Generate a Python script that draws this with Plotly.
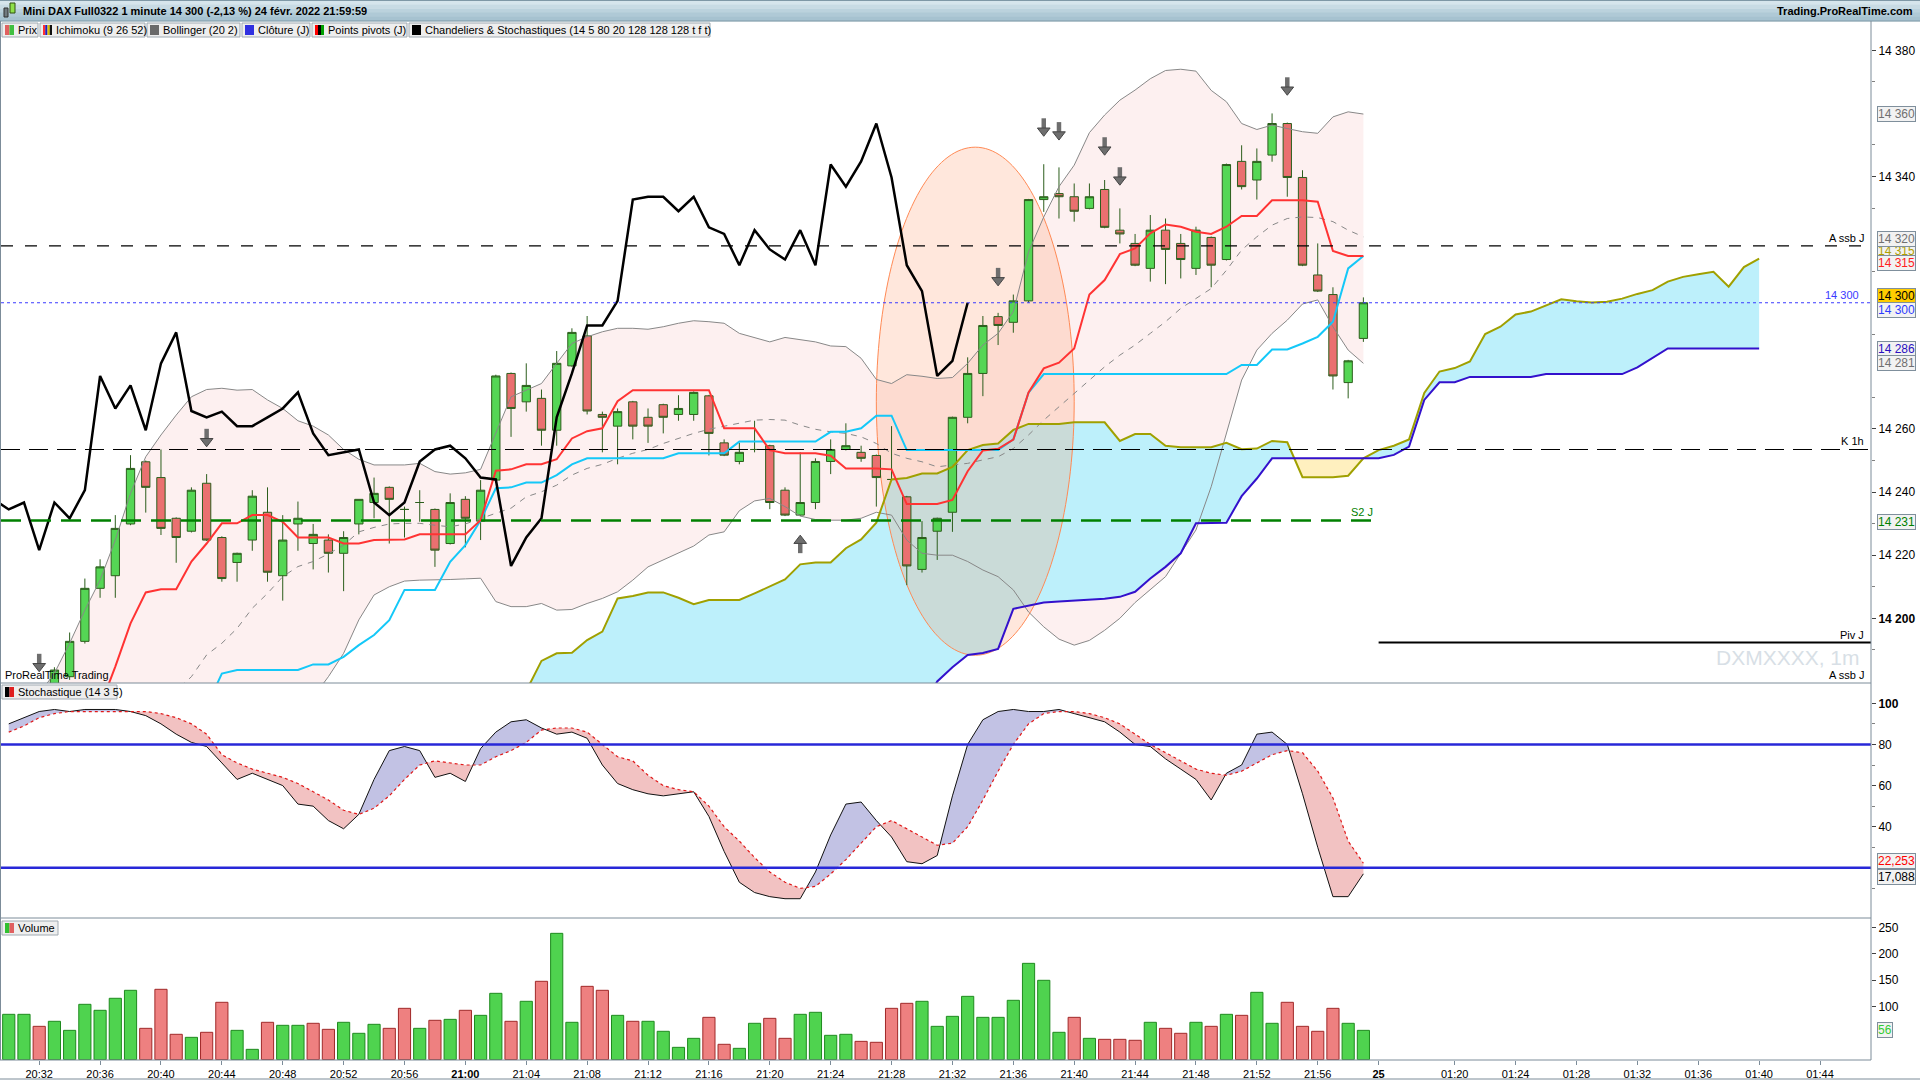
import numpy as np
import plotly.graph_objects as go

# bar index: 0 = 20:30 ... 89 = 21:59 (last bar), 90.. = projected slots of the next session

opens = [
    14170, 14175, 14178, 14176, 14181.5, 14192.7, 14209.5, 14213.5, 14229.9, 14249.6,
    14244.6, 14231.7, 14227.6, 14242.8, 14225.6, 14217.7, 14224.8, 14233.6, 14213.5, 14229.9,
    14223.7, 14224.8, 14220.6, 14229.9, 14236.7, 14241.5, 14234.5, 14236.7, 14234.5, 14223.7,
    14237.7, 14230.8, 14243.8, 14277.6, 14268.6, 14269.7, 14259.6, 14280.0, 14289.5, 14264.6,
    14260.9, 14268.6, 14263.7, 14267.7, 14264.6, 14264.6, 14270.5, 14255.6, 14249.7, 14253.5,
    14254.7, 14240.6, 14232.7, 14236.7, 14249.7, 14253.5, 14252.6, 14251.6, 14244.0, 14238.5,
    14215.5, 14227.6, 14233.6, 14263.7, 14277.6, 14295.6, 14293.8, 14300.6, 14332.7, 14334.6,
    14333.6, 14329.9, 14335.9, 14323.0, 14318.8, 14310.9, 14323.0, 14318.8, 14310.9, 14320.7,
    14313.7, 14344.8, 14338.9, 14346.8, 14356.8, 14339.7, 14308.8, 14302.6, 14274.7, 14288.7,
]
highs = [
    14176, 14179, 14178.5, 14184.5, 14195.5, 14212.6, 14218.7, 14232.7, 14251.7, 14250.0,
    14253.5, 14232.0, 14241.5, 14245.7, 14226.0, 14220.8, 14240.6, 14241.5, 14232.7, 14237.0,
    14229.9, 14226.6, 14227.6, 14237.7, 14244.6, 14241.8, 14235.4, 14240.6, 14234.8, 14239.6,
    14238.7, 14243.8, 14277.2, 14277.9, 14280.8, 14272.5, 14284.7, 14291.9, 14295.8, 14265.5,
    14266.5, 14268.9, 14266.5, 14268.0, 14270.7, 14271.9, 14270.8, 14256.7, 14255.6, 14262.6,
    14255.0, 14241.5, 14252.6, 14250.7, 14256.7, 14261.8, 14254.7, 14251.9, 14260.9, 14238.8,
    14230.8, 14231.9, 14263.9, 14282.7, 14295.8, 14296.8, 14302.6, 14332.9, 14343.9, 14342.9,
    14337.8, 14337.8, 14338.9, 14329.9, 14321.8, 14327.8, 14326.7, 14321.8, 14324.1, 14321.0,
    14344.1, 14349.9, 14348.9, 14360.0, 14357.1, 14342.0, 14318.8, 14304.9, 14281.9, 14301.7,
]
lows = [
    14166, 14172, 14174, 14175, 14180.5, 14192.0, 14206.5, 14206.5, 14229.5, 14233.5,
    14226.4, 14217.6, 14227.2, 14224.5, 14211.6, 14211.6, 14221.4, 14211.6, 14205.6, 14221.4,
    14215.5, 14214.5, 14208.6, 14226.6, 14231.7, 14223.7, 14225.6, 14230.6, 14216.3, 14223.4,
    14222.5, 14224.8, 14243.0, 14257.5, 14265.5, 14254.7, 14254.7, 14279.7, 14264.6, 14252.6,
    14248.8, 14256.7, 14255.6, 14258.6, 14262.6, 14262.6, 14251.6, 14251.4, 14248.8, 14252.6,
    14234.6, 14232.4, 14232.4, 14234.6, 14245.7, 14253.2, 14249.6, 14235.4, 14243.7, 14210.5,
    14214.5, 14218.5, 14227.4, 14261.8, 14270.4, 14286.6, 14290.5, 14300.0, 14328.8, 14326.7,
    14325.7, 14329.6, 14323.6, 14318.8, 14311.6, 14306.7, 14305.9, 14307.7, 14308.8, 14304.9,
    14313.4, 14335.9, 14332.7, 14344.7, 14333.6, 14311.6, 14303.4, 14272.5, 14269.7, 14287.6,
]
closes = [
    14175, 14178, 14176, 14183.6, 14192.7, 14209.5, 14216.3, 14228.5, 14247.5, 14241.5,
    14228.5, 14225.6, 14240.6, 14224.8, 14212.6, 14220.6, 14238.7, 14214.6, 14224.8, 14231.7,
    14226.6, 14220.6, 14225.6, 14237.7, 14239.6, 14237.7, 14234.5, 14236.7, 14221.6, 14236.7,
    14231.7, 14240.6, 14276.8, 14266.5, 14273.8, 14259.6, 14280.8, 14290.6, 14265.7, 14263.7,
    14265.5, 14260.9, 14260.9, 14263.7, 14266.5, 14271.6, 14258.6, 14251.7, 14252.6, 14253.5,
    14236.7, 14232.7, 14236.7, 14249.7, 14253.5, 14254.7, 14250.7, 14244.6, 14244.0, 14216.6,
    14225.6, 14231.7, 14263.7, 14277.6, 14292.8, 14292.8, 14300.6, 14332.7, 14333.6, 14333.6,
    14329.0, 14333.6, 14323.9, 14321.8, 14311.9, 14323.0, 14316.9, 14313.7, 14323.0, 14311.9,
    14343.8, 14336.8, 14344.8, 14356.8, 14339.7, 14311.9, 14303.7, 14276.8, 14281.6, 14300.0,
]
volume = [
    85.6, 85.6, 62.9, 72.4, 55.3, 104.5, 93.2, 115.9, 131.0, 59.1,
    132.9, 47.8, 42.1, 51.6, 108.3, 55.3, 19.4, 70.5, 64.8, 64.8,
    68.6, 57.2, 70.5, 49.7, 66.7, 59.1, 96.9, 59.1, 74.3, 76.1,
    93.2, 83.7, 125.3, 72.4, 110.2, 148.0, 238.7, 70.5, 138.5, 131.0,
    83.7, 72.4, 72.4, 53.5, 23.2, 40.2, 79.9, 28.9, 21.3, 68.6,
    78.0, 40.2, 85.6, 89.4, 45.9, 47.8, 34.5, 32.7, 96.9, 106.4,
    110.2, 62.9, 81.8, 119.6, 79.9, 79.9, 112.1, 182.0, 149.9, 51.6,
    79.9, 40.2, 38.3, 38.3, 36.5, 70.5, 59.1, 49.7, 70.5, 62.9,
    85.6, 83.7, 127.2, 68.6, 108.3, 62.9, 53.5, 96.9, 68.6, 55.3,
]

# Bollinger (20 2)
bb_upper = [
    14165, 14170, 14176, 14182.6, 14192.1, 14202.6, 14212.1, 14224.8, 14239.6, 14251.2,
    14258.1, 14264.4, 14270.2, 14272.5, 14272.9, 14272.3, 14272.5, 14269.2, 14266.5, 14262.6,
    14260.9, 14258.1, 14253.5, 14250.4, 14248.6, 14248.6, 14248.6, 14249.1, 14246.5, 14245.7,
    14246.1, 14247.2, 14258.6, 14270.2, 14272.3, 14274.4, 14280.8, 14287.1, 14289.2, 14290.8,
    14291.9, 14291.9, 14291.6, 14292.4, 14293.5, 14294.3, 14294.0, 14293.5, 14290.3, 14289.0,
    14287.6, 14289.0, 14288.4, 14287.6, 14286.3, 14286.1, 14282.4, 14275.7, 14274.4, 14277.2,
    14276.7, 14276.0, 14276.3, 14280.8, 14286.6, 14290.3, 14297.2, 14316.1, 14327.2, 14336.8,
    14343.6, 14353.9, 14359.5, 14364.2, 14367.4, 14371.0, 14373.6, 14374.0, 14373.4, 14367.3,
    14363.7, 14356.8, 14354.9, 14356.3, 14355.2, 14354.2, 14353.7, 14358.9, 14360.5, 14359.8,
]
bb_mid = [
    14120, 14125, 14130, 14135, 14140, 14146, 14152, 14158, 14164, 14169,
    14173, 14177, 14181.5, 14188.4, 14192.1, 14196.8, 14203.2, 14207.9, 14213.2, 14216.4,
    14218.0, 14220.4, 14223.2, 14227.4, 14228.8, 14229.9, 14230.1, 14230.1, 14229.5, 14229.0,
    14229.9, 14231.7, 14233.3, 14234.9, 14238.5, 14240.1, 14242.2, 14245.4, 14247.5, 14248.8,
    14250.7, 14252.3, 14253.5, 14255.4, 14257.0, 14258.6, 14259.9, 14260.9, 14262.0, 14262.8,
    14263.0, 14262.8, 14261.2, 14259.9, 14259.1, 14258.6, 14257.5, 14255.4, 14252.3, 14250.7,
    14249.6, 14248.0, 14248.6, 14249.1, 14250.2, 14251.2, 14253.8, 14258.1, 14262.8, 14267.0,
    14271.3, 14275.5, 14279.7, 14283.4, 14286.6, 14290.3, 14294.0, 14298.2, 14301.4, 14304.5,
    14310.3, 14316.7, 14320.9, 14324.6, 14326.7, 14327.2, 14327.0, 14325.7, 14323.0, 14320.9,
]
bb_lower = [
    14075, 14080, 14084, 14088, 14088, 14090, 14092, 14091, 14088, 14087,
    14088, 14090, 14093, 14104, 14111, 14121, 14134, 14147, 14160, 14170,
    14175, 14181.5, 14188.9, 14199.5, 14207.4, 14210.0, 14211.8, 14212.1, 14212.1, 14212.3,
    14212.5, 14212.7, 14205.3, 14203.7, 14203.7, 14204.7, 14202.6, 14202.8, 14204.7, 14206.3,
    14208.4, 14212.1, 14216.3, 14218.5, 14220.6, 14222.9, 14226.4, 14227.4, 14234.1, 14237.2,
    14238.0, 14235.4, 14232.4, 14231.3, 14231.1, 14231.1, 14231.7, 14233.6, 14232.7, 14224.8,
    14220.6, 14220.0, 14220.0, 14218.0, 14215.3, 14213.2, 14209.0, 14202.0, 14197.3, 14193.4,
    14191.5, 14193.0, 14196.2, 14200.0, 14205.0, 14209.0, 14213.2, 14220.6, 14228.0, 14241.7,
    14258.6, 14275.5, 14285.0, 14290.3, 14294.5, 14299.6, 14300.9, 14292.4, 14285.0, 14280.8,
]

# Ichimoku (9 26 52)
TENKAN_START = 6
tenkan = [
    14172, 14184.7, 14198.4, 14208.2, 14209.2, 14209.2, 14218.0, 14223.7, 14230.1, 14230.1,
    14232.7, 14232.7, 14230.6, 14225.6, 14225.6, 14225.6, 14223.7, 14223.7, 14224.8, 14225.0,
    14225.0, 14226.6, 14226.6, 14226.6, 14226.6, 14231.1, 14246.8, 14247.2, 14248.8, 14248.8,
    14250.4, 14257.0, 14259.3, 14260.2, 14268.8, 14272.3, 14272.3, 14272.3, 14272.3, 14272.3,
    14272.3, 14260.2, 14260.2, 14260.2, 14253.3, 14252.3, 14252.3, 14252.3, 14251.5, 14247.5,
    14247.5, 14247.5, 14247.2, 14236.2, 14236.2, 14236.2, 14237.5, 14246.6, 14253.2, 14253.7,
    14256.6, 14271.6, 14279.2, 14281.0, 14285.5, 14302.6, 14307.2, 14315.4, 14317.2, 14322.0,
    14324.8, 14324.1, 14322.5, 14321.8, 14324.1, 14327.5, 14327.5, 14332.5, 14332.5, 14332.5,
    14332.0, 14316.4, 14314.8, 14314.8,
]
KIJUN_START = 13
kijun = [
    14172, 14182.5, 14183.6, 14183.6, 14183.6, 14183.6, 14183.6, 14185.4, 14185.4, 14187.8,
    14191.5, 14194.7, 14199.4, 14209.0, 14209.0, 14209.0, 14217.9, 14223.2, 14231.1, 14241.2,
    14241.5, 14243.0, 14243.0, 14245.4, 14248.8, 14250.7, 14250.7, 14250.7, 14250.7, 14250.7,
    14250.7, 14252.3, 14252.3, 14252.3, 14252.3, 14256.0, 14256.0, 14256.0, 14256.0, 14256.0,
    14256.0, 14259.1, 14259.1, 14260.2, 14264.2, 14264.2, 14253.3, 14253.3, 14253.3, 14253.3,
    14253.3, 14253.3, 14253.3, 14256.7, 14271.5, 14277.4, 14277.4, 14277.4, 14277.4, 14277.4,
    14277.4, 14277.4, 14277.4, 14277.4, 14277.4, 14277.4, 14277.4, 14277.4, 14280.3, 14280.3,
    14285.2, 14285.2, 14287.1, 14289.2, 14294.0, 14310.9, 14314.8,
]
SPAN_START = 34
span_a = [
    14177, 14186.5, 14188.9, 14189.1, 14193.1, 14195.8, 14206.3, 14207.1, 14208.2, 14208.2,
    14206.5, 14204.5, 14205.8, 14205.8, 14205.8, 14207.9, 14210.0, 14212.3, 14217.1, 14217.7,
    14217.7, 14222.2, 14225.0, 14230.3, 14244.0, 14244.5, 14245.9, 14245.9, 14248.0, 14253.3,
    14254.9, 14255.4, 14259.7, 14261.6, 14261.6, 14261.6, 14262.1, 14262.1, 14262.1, 14256.2,
    14258.4, 14258.4, 14254.7, 14254.2, 14254.2, 14254.2, 14255.6, 14253.6, 14253.8, 14256.2,
    14255.8, 14244.7, 14244.7, 14244.7, 14245.2, 14250.7, 14253.3, 14254.7, 14256.7, 14271.4,
    14278.2, 14279.3, 14281.4, 14290.1, 14292.4, 14296.3, 14297.2, 14299.1, 14301.1, 14300.5,
    14300.1, 14300.3, 14301.3, 14302.8, 14304.0, 14306.7, 14308.2, 14309.0, 14309.8, 14305.1,
    14311.3, 14314.0,
]
span_b = [
    14150, 14150, 14150, 14150, 14150, 14150, 14150, 14150, 14150, 14150,
    14150, 14150, 14150, 14150, 14150, 14150, 14150, 14150, 14150, 14150,
    14150, 14150, 14150, 14158, 14162, 14166, 14171, 14180.0, 14184.5, 14188.4,
    14189.0, 14190.3, 14203.0, 14204.0, 14205.0, 14205.3, 14205.6, 14205.8, 14206.2, 14206.8,
    14208.4, 14212.6, 14216.3, 14220.6, 14230.1, 14230.2, 14230.3, 14238.7, 14244.3, 14250.7,
    14250.7, 14250.7, 14250.7, 14250.7, 14250.7, 14250.7, 14250.7, 14251.8, 14254.4, 14269.2,
    14274.8, 14274.8, 14276.5, 14276.5, 14276.5, 14276.5, 14276.5, 14277.4, 14277.4, 14277.4,
    14277.4, 14277.4, 14277.4, 14279.5, 14282.5, 14285.5, 14285.5, 14285.5, 14285.5, 14285.5,
    14285.5, 14285.5,
]
CHIKOU_SHIFT = 26

# Stochastique (14 3 5)
stoch_k = [
    90, 93, 96, 97, 96, 97, 97, 97, 96, 94,
    90, 85, 81, 79, 71, 63, 66, 63, 60, 51,
    50, 43, 39, 46, 63, 77, 79, 77, 64, 66,
    62, 78, 86, 91, 92, 88, 85, 86, 83, 70,
    61, 58, 56, 55, 56, 57, 45, 28, 13, 8,
    6, 5, 5, 18, 36, 51, 52, 43, 35, 23,
    22, 26, 55, 80, 92, 96, 97, 96, 96, 97,
    95, 93, 91, 86, 80, 79, 73, 68, 63, 53,
    66, 70, 85, 86, 80, 56, 30, 6, 6, 17.088,
]
stoch_d = [
    86, 89, 93, 95, 96, 96, 96, 96, 96, 96,
    95, 93, 90, 85, 75, 71, 68, 66, 64, 61,
    57, 53, 48, 46, 49, 55, 63, 70, 72, 71,
    70, 70, 74, 77, 81, 87, 88, 88, 86, 80,
    74, 72, 65, 60, 58, 57, 50, 40, 33, 25,
    18, 13, 10, 11, 17, 24, 32, 40, 43, 39,
    35, 31, 32, 40, 53, 67, 80, 90, 95, 96,
    96, 95, 93, 90, 85, 80, 76, 72, 68, 66,
    65, 67, 71, 75, 77, 76, 67, 54, 33, 22.253,
]

# signal arrows (bar, price)
arrow_down_bars = [2, 13, 65, 68, 69, 72, 73, 84]
arrow_down_prices = [14185.7, 14257.0, 14308.0, 14355.4, 14354.2, 14349.4, 14339.9, 14368.4]
arrow_up_bars = [52]
arrow_up_prices = [14223.7]

# daily / hourly levels
LEVEL_ASSB = 14318.0
LEVEL_LAST = 14300.0
LEVEL_K1H = 14253.5
LEVEL_S2 = 14231.0
LEVEL_PIV = 14192.3

tick_bars = [2, 6, 10, 14, 18, 22, 26, 30, 34, 38, 42, 46, 50, 54, 58, 62, 66, 70, 74, 78, 82, 86,
             90, 95, 99, 103, 107, 111, 115, 119]
tick_labels = ["20:32", "20:36", "20:40", "20:44", "20:48", "20:52", "20:56", "<b>21:00</b>",
               "21:04", "21:08", "21:12", "21:16", "21:20", "21:24", "21:28", "21:32", "21:36",
               "21:40", "21:44", "21:48", "21:52", "21:56", "<b>25</b>", "01:20", "01:24",
               "01:28", "01:32", "01:36", "01:40", "01:44"]

# ---------------------------------------------------------------- geometry
W, H = 1920, 1080
ML, MR, MT, MB = 1, 49, 38, 20
PW, PH = W - ML - MR, H - MT - MB
FONT = "Liberation Sans, Arial, sans-serif"
X_RANGE = [-0.51, 122.35]
GRID = "#7c8c99"


def px(x):
    return (x - ML) / PW


def py(y):
    return (H - MB - y) / PH


def split_runs(x, a, b):
    # pieces where a >= b / a < b, crossing points interpolated
    out = []
    cur = [(x[0], a[0], b[0])]
    sign = a[0] >= b[0]
    for i in range(1, len(x)):
        s = a[i] >= b[i]
        if s != sign:
            d0, d1 = a[i - 1] - b[i - 1], a[i] - b[i]
            f = d0 / (d0 - d1)
            xc = x[i - 1] + f * (x[i] - x[i - 1])
            yc = a[i - 1] + f * (a[i] - a[i - 1])
            cur.append((xc, yc, yc))
            out.append((sign, cur))
            cur = [(xc, yc, yc)]
            sign = s
        cur.append((x[i], a[i], b[i]))
    out.append((sign, cur))
    return out


def polygons(x, a, b):
    res = []
    for up, pts in split_runs(list(x), list(a), list(b)):
        xs = [p[0] for p in pts] + [p[0] for p in pts[::-1]]
        ys = [p[1] for p in pts] + [p[2] for p in pts[::-1]]
        res.append((up, xs, ys))
    return res


shapes = []


def path_shape(xs, ys, fill, line_color=None, yref="y"):
    d = "M " + " L ".join(f"{float(x):.4f},{float(y):.3f}" for x, y in zip(xs, ys)) + " Z"
    shapes.append(dict(type="path", xref="x", yref=yref, path=d, fillcolor=fill, layer="below",
                       line=dict(color=line_color or fill, width=1 if line_color else 0)))


bars = np.arange(len(closes))

# fills go below the traces (candles must stay on top)
path_shape(list(bars) + list(bars[::-1]), bb_upper + bb_lower[::-1], "#fdf0f0")
span_x = np.arange(SPAN_START, SPAN_START + len(span_a))
for up, xs, ys in polygons(span_x, span_a, span_b):
    path_shape(xs, ys, "#bdf0fb" if up else "#fff0bf")
ang = np.linspace(0, 2 * np.pi, 181)
path_shape(63.5 + 6.5 * np.cos(ang), 14268.8 + 80.5 * np.sin(ang), "rgba(255,135,80,0.20)", "#ff8a55")

fig = go.Figure()

# Bollinger lines
for arr, dash in [(bb_upper, "solid"), (bb_lower, "solid"), (bb_mid, "6px,6px")]:
    fig.add_trace(go.Scatter(x=bars, y=arr, mode="lines", line=dict(color="#888888", width=1, dash=dash),
                             hoverinfo="skip"))

fig.add_trace(go.Scatter(x=span_x, y=span_a, mode="lines", line=dict(color="#a0a000", width=2)))
fig.add_trace(go.Scatter(x=span_x, y=span_b, mode="lines", line=dict(color="#3311cc", width=2)))
fig.add_trace(go.Scatter(x=np.arange(KIJUN_START, KIJUN_START + len(kijun)), y=kijun, mode="lines",
                         line=dict(color="#14c8f8", width=2)))
fig.add_trace(go.Scatter(x=np.arange(TENKAN_START, TENKAN_START + len(tenkan)), y=tenkan, mode="lines",
                         line=dict(color="#ff3333", width=2)))
chikou = closes[CHIKOU_SHIFT - 1:]
fig.add_trace(go.Scatter(x=np.arange(-1, -1 + len(chikou)), y=chikou, mode="lines",
                         line=dict(color="#000000", width=2.5)))

fig.add_trace(go.Candlestick(
    x=bars, open=opens, high=highs, low=lows, close=closes, whiskerwidth=0,
    increasing=dict(fillcolor="#55d655", line=dict(color="#2c5e1c", width=1)),
    decreasing=dict(fillcolor="#ea7070", line=dict(color="#2c5e1c", width=1)),
    hoverinfo="skip"))

# block arrows: shaft on the tail side, head on the pointing side
for xs, ys, d in [(arrow_down_bars, arrow_down_prices, -1), (arrow_up_bars, arrow_up_prices, 1)]:
    fig.add_trace(go.Scatter(x=xs, y=[v - d * 1.5 for v in ys], mode="markers",
                             marker=dict(symbol="line-ns", size=7, line=dict(color="#6e6e6e", width=4.5))))
    fig.add_trace(go.Scatter(x=xs, y=[v + d * 0.9 for v in ys], mode="markers",
                             marker=dict(symbol="triangle-down" if d < 0 else "triangle-up", size=11,
                                         color="#6e6e6e", line=dict(color="#454545", width=1))))

# stochastic
for up, xs, ys in polygons(bars, stoch_k, stoch_d):
    fig.add_trace(go.Scatter(x=xs, y=ys, fill="toself", fillcolor="#c2c2e4" if up else "#f2c2c2",
                             line=dict(width=0), mode="lines", yaxis="y2", hoverinfo="skip"))
fig.add_trace(go.Scatter(x=bars, y=stoch_k, mode="lines", line=dict(color="#111111", width=1), yaxis="y2"))
fig.add_trace(go.Scatter(x=bars, y=stoch_d, mode="lines", line=dict(color="#e01818", width=1.2, dash="dot"),
                         yaxis="y2"))

# volume, coloured on close vs previous close
vol_up = [i == 0 or closes[i] >= closes[i - 1] for i in range(len(closes))]
fig.add_trace(go.Bar(x=bars, y=volume, yaxis="y3",
                     marker=dict(color=["#4fd34f" if u else "#ee8080" for u in vol_up],
                                 line=dict(color=["#1e8a1e" if u else "#a02828" for u in vol_up], width=1))))


# ---------------------------------------------------------------- decorations
def hline(y, x0=X_RANGE[0], x1=X_RANGE[1], color="black", width=1, dash="solid", yref="y"):
    shapes.append(dict(type="line", xref="x", yref=yref, x0=x0, x1=x1, y0=y, y1=y, layer="above",
                       line=dict(color=color, width=width, dash=dash)))


hline(LEVEL_ASSB, dash="12px,12px", width=1.2)
hline(LEVEL_LAST, color="#3a3aff", dash="3px,3px")
hline(LEVEL_K1H, dash="19px,9px", width=1.2)
hline(LEVEL_S2, x1=89.6, color="#008000", width=2.5, dash="20px,10px")
hline(LEVEL_PIV, x0=90, width=2)
hline(80, color="#2828d8", width=2.5, yref="y2")
hline(20, color="#2828d8", width=2.5, yref="y2")


def prect(x0, y0, x1, y1, fill, line=None):
    shapes.append(dict(type="rect", xref="paper", yref="paper", x0=px(x0), x1=px(x1), y0=py(y1), y1=py(y0),
                       fillcolor=fill, line=dict(color=line or fill, width=1 if line else 0), layer="above"))


def pline(x0, y0, x1, y1, color=GRID, width=1):
    shapes.append(dict(type="line", xref="paper", yref="paper", x0=px(x0), x1=px(x1), y0=py(y0), y1=py(y1),
                       line=dict(color=color, width=width), layer="above"))


# header gradient
for i, c in enumerate(["#d6e5ec", "#c8dbe4", "#bbd2dd", "#afc9d6", "#a6c2d0"]):
    prect(0, i * 4.2, W, (i + 1) * 4.2 + 0.3, c)
pline(0, 21, W, 21, "#7f98a6")
pline(0, 0.5, W, 0.5, "#7f98a6")

# panel frames
pline(0.5, 21, 0.5, H - MB, GRID)
pline(1871, 21, 1871, H - MB, GRID)
pline(0, 683, 1871, 683, GRID)
pline(0, 918, 1871, 918, GRID)
pline(0, H - MB, 1871, H - MB, GRID)
pline(0, H - 1, W, H - 1, GRID)

annotations = []


def text(x, y, s, size=11, color="black", xanchor="left", yanchor="middle", bold=False, **kw):
    annotations.append(dict(xref="paper", yref="paper", x=px(x), y=py(y), text=f"<b>{s}</b>" if bold else s,
                            showarrow=False, xanchor=xanchor, yanchor=yanchor,
                            font=dict(family=FONT, size=size, color=color), **kw))


# title bar
prect(4, 8, 8, 17, "#707a80", "#303030")
prect(10, 3, 15, 13, "#8ee04a", "#305010")
text(21, 10.5, "Mini DAX Full0322 1 minute 14 300 (-2,13 %) 24 févr. 2022 21:59:59", size=11, bold=True)
text(1915, 10.5, "Trading.ProRealTime.com", size=11, bold=True, xanchor="right")

# indicator tags
legend_items = [
    (2, 38, "Prix", ["#e06060", "#40c040"]),
    (40, 145, "Ichimoku (9 26 52)", ["#ff3030", "#2020c0", "#e0c000", "#101010"]),
    (147, 240, "Bollinger (20 2)", ["#6a6a6a"]),
    (242, 310, "Clôture (J)", ["#3030e0"]),
    (312, 407, "Points pivots (J)", ["#ff0000", "#000000", "#00a000"]),
    (409, 710, "Chandeliers & Stochastiques (14 5 80 20 128 128 128 t f t)", ["#000000"]),
]
for x0, x1, label, cols in legend_items:
    prect(x0, 23, x1, 37, "#eeeeee", "#a0aab2")
    w = 9 / len(cols)
    for k, c in enumerate(cols):
        prect(x0 + 3 + k * w, 25, x0 + 3 + (k + 1) * w, 35, c)
    text(x0 + 14, 30, label)

prect(2, 685, 117, 699, "#eeeeee", "#a0aab2")
prect(5, 687, 9.5, 697, "#000000")
prect(9.5, 687, 14, 697, "#e02020")
text(16, 692, "Stochastique (14 3 5)")
prect(2, 921, 58, 935, "#eeeeee", "#a0aab2")
prect(5, 923, 9.5, 933, "#30c030")
prect(9.5, 923, 14, 933, "#e06060")
text(16, 928, "Volume")

text(3, 675, "ProRealTime Trading", size=11)
text(1862, 657, "DXMXXXX, 1m", size=21, color="#d8dfe6", xanchor="right")

# level labels
for y, s, col, xr in [(LEVEL_ASSB, "A ssb J", "black", 1866), (LEVEL_LAST, "14 300", "#3a3aff", 1861),
                      (LEVEL_K1H, "K 1h", "black", 1866), (LEVEL_PIV, "Piv J", "black", 1866)]:
    annotations.append(dict(xref="paper", yref="y", x=px(xr), y=y, text=s, showarrow=False, xanchor="right",
                            yanchor="bottom", font=dict(family=FONT, size=11, color=col)))
annotations.append(dict(xref="x", yref="y", x=88.9, y=LEVEL_S2, text="S2 J", showarrow=False, xanchor="center",
                        yanchor="bottom", font=dict(family=FONT, size=11, color="#008000")))
text(1866, 675, "A ssb J", xanchor="right")

# value boxes on the right scale
value_boxes = [
    (114, "14 360", "#707070", "#f2f2f2"),
    (251, "14 315", "#b0a000", "#f2f2f2"),
    (239, "14 320", "#707070", "#f2f2f2"),
    (263, "14 315", "#ff2020", "#f2f2f2"),
    (296, "14 300", "#000000", "#ffcc00"),
    (310, "14 300", "#2d3cff", "#f2f2f2"),
    (349, "14 286", "#2a10c0", "#f2f2f2"),
    (363, "14 281", "#707070", "#f2f2f2"),
    (522, "14 231", "#008000", "#f2f2f2"),
    (861, "22,253", "#ff0000", "#f2f2f2"),
    (877, "17,088", "#000000", "#f2f2f2"),
    (1030, "56", "#33cc33", "#f2f2f2"),
]
for y, s, col, bg in value_boxes:
    text(1877, y, s, size=12, color=col, bgcolor=bg, bordercolor="#7f8f9c", borderwidth=1, borderpad=0)

axis_font = dict(family=FONT, size=12, color="black")
fig.update_layout(
    width=W, height=H, margin=dict(l=ML, r=MR, t=MT, b=MB),
    paper_bgcolor="white", plot_bgcolor="white", showlegend=False, hovermode=False,
    boxgap=0.22, bargap=0.2,
    xaxis=dict(domain=[0, 1], range=X_RANGE, anchor="y3", tickvals=tick_bars, ticktext=tick_labels,
               ticks="outside", ticklen=4, tickcolor=GRID, showgrid=False, zeroline=False, showline=False,
               tickfont=dict(family=FONT, size=11, color="black"), rangeslider=dict(visible=False)),
    yaxis=dict(domain=[py(683), 1], range=[14179.5, 14383.9], side="right", anchor="x",
               tickvals=[14200, 14220, 14240, 14260, 14340, 14380],
               ticktext=["<b>14 200</b>", "14 220", "14 240", "14 260", "14 340", "14 380"],
               ticks="outside", ticklen=4, tickcolor="#404040", showgrid=False, zeroline=False,
               minor=dict(tickvals=[14190, 14210, 14230, 14250, 14270, 14290, 14310, 14330, 14350, 14370],
                          ticks="outside", ticklen=3, tickcolor="#808080"),
               tickfont=axis_font),
    yaxis2=dict(domain=[py(918), py(683)], range=[-4.38, 109.87], side="right", anchor="x",
                tickvals=[40, 60, 80, 100], ticktext=["40", "60", "80", "<b>100</b>"],
                ticks="outside", ticklen=4, tickcolor="#404040", showgrid=False, zeroline=False,
                minor=dict(tickvals=[10, 30, 50, 70, 90], ticks="outside", ticklen=3, tickcolor="#808080"),
                tickfont=axis_font),
    yaxis3=dict(domain=[0, py(918)], range=[-0.76, 267.7], side="right", anchor="x",
                tickvals=[100, 150, 200, 250], ticks="outside", ticklen=4, tickcolor="#404040",
                showgrid=False, zeroline=False, tickfont=axis_font),
    shapes=shapes, annotations=annotations,
)

fig.write_html("out.html", config={"displayModeBar": False},
               post_script="document.body.style.margin='0px';")
